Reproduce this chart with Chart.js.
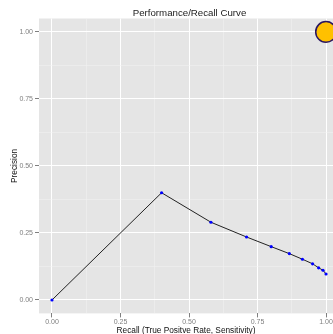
<!DOCTYPE html>
<html>
<head>
<meta charset="utf-8">
<script src="https://cdn.jsdelivr.net/npm/chart.js@4"></script>
<style>
  html, body { margin: 0; padding: 0; background: #fff; overflow: hidden; }
  #wrap { width: 333px; height: 334px; position: relative; }
  canvas { display: block; }
</style>
</head>
<body>
<div id="wrap"><canvas id="prChart"></canvas></div>
<script>
// values
const recall    = [0.00, 0.40, 0.58, 0.71, 0.80, 0.866, 0.914, 0.951, 0.973, 0.989, 1.00];
const precision = [0.00, 0.40, 0.29, 0.235, 0.199, 0.173, 0.152, 0.135, 0.12, 0.111, 0.097];
const bestPoint = [1.00, 1.00];
const tickValues = [0, 0.125, 0.25, 0.375, 0.5, 0.625, 0.75, 0.875, 1];

const isMajor = v => Math.abs((v / 0.25) - Math.round(v / 0.25)) < 1e-9;

// grey panel + title drawn ggplot style
const panelBg = {
  id: 'panelBg',
  beforeDraw(chart) {
    const { ctx, chartArea: a } = chart;
    ctx.save();
    ctx.fillStyle = '#E5E5E5';
    ctx.fillRect(a.left, a.top, a.right - a.left, a.bottom - a.top);
    ctx.restore();
  },
  afterDraw(chart) {
    const ctx = chart.ctx;
    ctx.save();
    ctx.fillStyle = '#222';
    ctx.font = '9.7px "Liberation Sans", Arial, sans-serif';
    ctx.textAlign = 'center';
    ctx.textBaseline = 'middle';
    ctx.fillText('Performance/Recall Curve', 189.5, 13);
    ctx.restore();
  }
};

function axisOpts(title, fitFn, range, tickPad, titlePad) {
  return {
    type: 'linear',
    min: range[0],
    max: range[1],
    afterBuildTicks: s => { s.ticks = tickValues.map(v => ({ value: v })); },
    afterFit: fitFn,
    border: { display: false },
    grid: {
      color: c => (c.tick && isMajor(c.tick.value)) ? '#FFFFFF' : '#F2F2F2',
      lineWidth: c => (c.tick && isMajor(c.tick.value)) ? 1 : 0.5,
      tickColor: c => (c.tick && isMajor(c.tick.value)) ? '#7F7F7F' : 'rgba(0,0,0,0)',
      tickLength: 4,
      drawTicks: true
    },
    ticks: {
      autoSkip: false,
      maxRotation: 0,
      padding: tickPad,
      color: '#7F7F7F',
      font: { size: 7, family: '"Liberation Sans", Arial, sans-serif' },
      callback: v => isMajor(v) ? v.toFixed(2) : ''
    },
    title: {
      display: true,
      text: title,
      color: '#111',
      font: { size: 8.3, lineHeight: 0.8, family: '"Liberation Sans", Arial, sans-serif' },
      padding: titlePad
    }
  };
}

const ctx = document.getElementById('prChart').getContext('2d');
new Chart(ctx, {
  type: 'scatter',
  data: {
    datasets: [
      {
        data: recall.map((r, i) => ({ x: r, y: precision[i] })),
        showLine: true,
        borderColor: '#222',
        borderWidth: 1,
        pointRadius: 1.6,
        pointBackgroundColor: '#0000FF',
        pointBorderColor: '#0000FF',
        pointBorderWidth: 0
      },
      {
        data: [{ x: bestPoint[0], y: bestPoint[1] }],
        pointRadius: 10.3,
        pointBackgroundColor: '#FFC000',
        pointBorderColor: '#2B1660',
        pointBorderWidth: 1.5,
        clip: false
      }
    ]
  },
  options: {
    responsive: true,
    maintainAspectRatio: false,
    animation: false,
    layout: { autoPadding: false, padding: { top: 18.5, right: 0, left: 0, bottom: 0 } },
    plugins: { legend: { display: false }, tooltip: { enabled: false }, title: { display: false } },
    scales: {
      x: Object.assign(axisOpts('Recall (True Positve Rate, Sensitivity)', s => {
        s.height = 20.6; s.paddingLeft = 0; s.paddingRight = 0;
      }, [-0.0474, 1.0255], 0, { top: 0, bottom: 0 }), { position: 'bottom' }),
      y: Object.assign(axisOpts('Precision', s => {
        s.width = 39; s.paddingTop = 0; s.paddingBottom = 0;
      }, [-0.05, 1.05], 2, { top: 11, bottom: 0 }), { position: 'left' })
    }
  },
  plugins: [panelBg]
});
</script>
</body>
</html>
